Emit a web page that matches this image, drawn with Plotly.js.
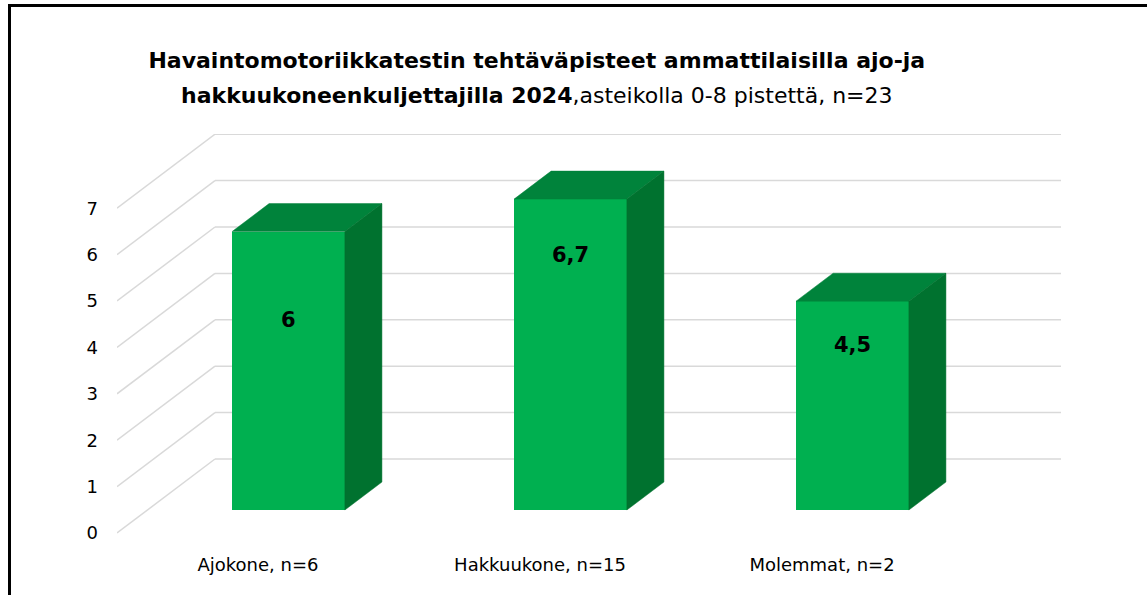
<!DOCTYPE html>
<html>
<head>
<meta charset="utf-8">
<script src="https://cdn.plot.ly/plotly-3.0.1.min.js"></script>
<style>
  html, body { margin: 0; padding: 0; background: #fff; }
  #chart { width: 1147px; height: 595px; }
  #frame { position: absolute; left: 8px; top: 4px; width: 1200px; height: 700px;
           border-left: 3px solid #000; border-top: 3px solid #000; pointer-events: none; }
</style>
</head>
<body>
<div id="chart"></div>
<div id="frame"></div>
<script>
// ---- data ----
const categories = ["Ajokone, n=6", "Hakkuukone, n=15", "Molemmat, n=2"];
const values = [6, 6.7, 4.5];
const yTicks = [0, 1, 2, 3, 4, 5, 6, 7];
const titleBold1 = "Havaintomotoriikkatestin tehtäväpisteet ammattilaisilla ajo-ja";
const titleBold2 = "hakkuukoneenkuljettajilla 2024";
const titleRest = ",asteikolla 0-8 pistettä, n=23";

// ---- styling / pseudo-3D geometry (in axis units) ----
const DX = 0.3475;     // full depth shift along x (category units)
const DY = 1.595;      // full depth shift along y (value units)
const D0 = 0.311, D1 = 0.689;  // bar front / back depth fractions
const HALF = 0.2;      // half bar width
const labelPos = [4.09, 5.50, 3.56]; // label heights on bar front
const cFront = "#00B050", cTop = "#00833B", cSide = "#00722F";
const gridColor = "#D9D9D9";
const xLeft = -0.5, xRight = categories.length - 0.5;

const xs = categories.map((_, i) => i);
const traces = [];

// front faces (real bars)
traces.push({
  type: "bar",
  x: xs.map(i => i + D0 * DX),
  y: values,
  base: values.map(() => D0 * DY),
  width: 2 * HALF,
  marker: { color: cFront, line: { width: 0 } },
  hoverinfo: "skip",
  showlegend: false
});

const ddx = (D1 - D0) * DX, ddy = (D1 - D0) * DY;
values.forEach((v, i) => {
  const x0 = i - HALF + D0 * DX, x1 = i + HALF + D0 * DX;
  const y0 = D0 * DY, y1 = v + D0 * DY;
  // top face
  traces.push({
    type: "scatter", mode: "lines", fill: "toself",
    x: [x0, x1, x1 + ddx, x0 + ddx, x0],
    y: [y1, y1, y1 + ddy, y1 + ddy, y1],
    fillcolor: cTop, line: { color: cTop, width: 0.5 },
    hoverinfo: "skip", showlegend: false
  });
  // side face
  traces.push({
    type: "scatter", mode: "lines", fill: "toself",
    x: [x1, x1 + ddx, x1 + ddx, x1, x1],
    y: [y0, y0 + ddy, y1 + ddy, y1, y0],
    fillcolor: cSide, line: { color: cSide, width: 0.5 },
    hoverinfo: "skip", showlegend: false
  });
});

// gridlines (side wall diagonals + back wall)
const shapes = [];
yTicks.forEach(t => {
  shapes.push({ type: "line", layer: "below", xref: "x", yref: "y",
    x0: xLeft, y0: t, x1: xLeft + DX, y1: t + DY,
    line: { color: gridColor, width: 1.5 } });
  shapes.push({ type: "line", layer: "below", xref: "x", yref: "y",
    x0: xLeft + DX, y0: t + DY, x1: xRight + DX, y1: t + DY,
    line: { color: gridColor, width: 1.5 } });
});

const annotations = values.map((v, i) => ({
  x: i + D0 * DX, y: D0 * DY + labelPos[i], xref: "x", yref: "y",
  text: "<b>" + String(v).replace(".", ",") + "</b>",
  showarrow: false,
  font: { family: "DejaVu Sans", size: 21, color: "#000" }
}));
// second title line
annotations.push({
  x: 0.4444, y: 1.0942, xref: "paper", yref: "paper",
  xanchor: "center", yanchor: "middle", showarrow: false,
  text: "<b>" + titleBold2 + "</b>" + titleRest,
  font: { family: "DejaVu Sans", size: 22, color: "#000" }
});

const layout = {
  width: 1147, height: 595,
  margin: { l: 117, r: 85, t: 134, b: 47 },
  paper_bgcolor: "#fff", plot_bgcolor: "rgba(0,0,0,0)",
  title: {
    text: "<b>" + titleBold1 + "</b>",
    x: 0.468, xanchor: "center", xref: "container",
    y: 1 - 60 / 595, yanchor: "middle", yref: "container",
    font: { family: "DejaVu Sans", size: 22, color: "#000" }
  },
  xaxis: {
    range: [xLeft, xLeft + 945 / 282],
    tickvals: xs, ticktext: categories,
    showgrid: false, zeroline: false, showline: false, ticks: "",
    ticklabelstandoff: 4,
    tickfont: { family: "DejaVu Sans", size: 18, color: "#000" },
    fixedrange: true
  },
  yaxis: {
    range: [-0.323, 8.599],
    tickvals: yTicks, ticktext: yTicks.map(String),
    showgrid: false, zeroline: false, showline: false, ticks: "",
    ticklabelstandoff: 18,
    tickfont: { family: "DejaVu Sans", size: 18, color: "#000" },
    fixedrange: true
  },
  shapes: shapes,
  annotations: annotations,
  bargap: 0,
  showlegend: false
};

Plotly.newPlot("chart", traces, layout, { displayModeBar: false, staticPlot: true });
</script>
</body>
</html>
